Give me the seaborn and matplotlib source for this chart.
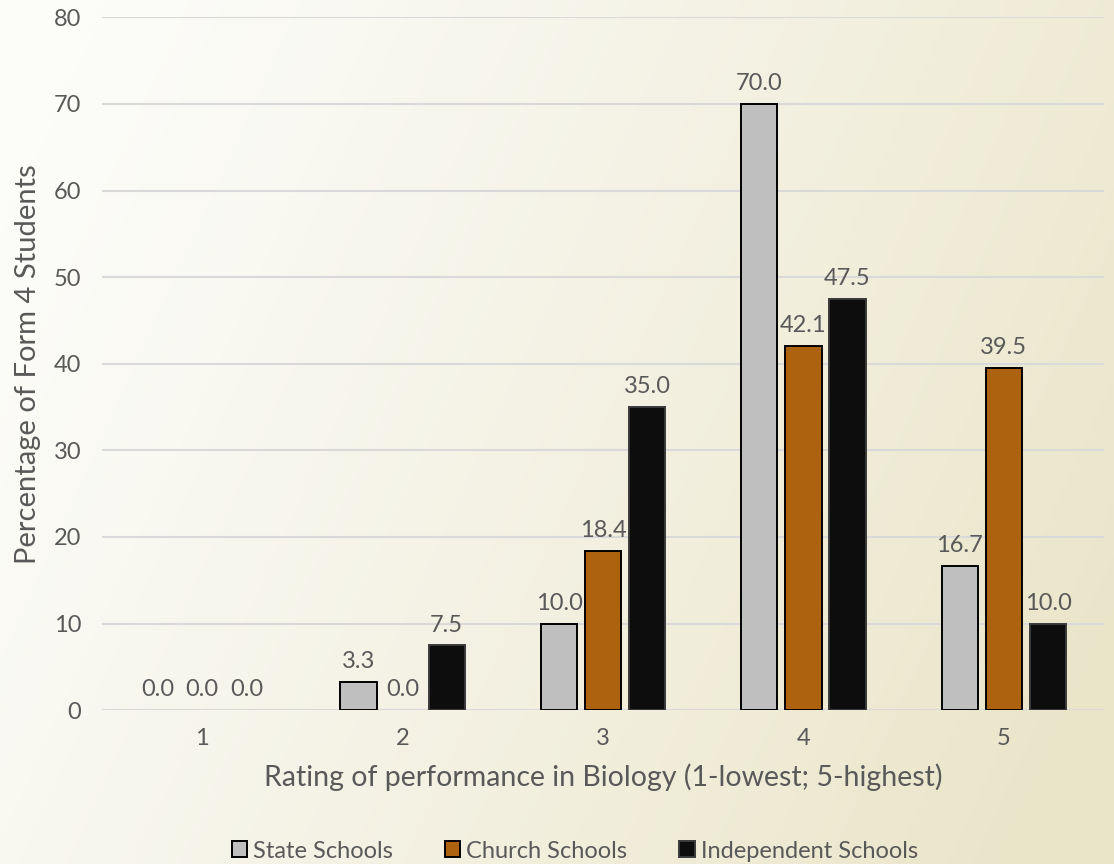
import numpy as np
import pandas as pd
import matplotlib
matplotlib.use("Agg")
import matplotlib.pyplot as plt
import seaborn as sns

# Ratings and percentages per school type
ratings = ["1", "2", "3", "4", "5"]
state_schools = [0.0, 3.3, 10.0, 70.0, 16.7]
church_schools = [0.0, 0.0, 18.4, 42.1, 39.5]
independent_schools = [0.0, 7.5, 35.0, 47.5, 10.0]
series_names = ["State Schools", "Church Schools", "Independent Schools"]
series_colors = ["#BFBFBF", "#AD620F", "#0D0D0D"]
series_edges = ["#000000", "#000000", "#3A3A3A"]

df = pd.DataFrame({
    "Rating": ratings * 3,
    "Percent": state_schools + church_schools + independent_schools,
    "School": sum([[n] * len(ratings) for n in series_names], []),
})

sns.set_theme(style="white")
plt.rcParams["font.family"] = ["Lato", "DejaVu Sans"]
text_color = "#595959"

fig = plt.figure(figsize=(11.14, 8.64), dpi=100)

# Soft diagonal background wash
bg = fig.add_axes([0, 0, 1, 1], zorder=-10)
h, w = 216, 279
yy, xx = np.mgrid[0:h, 0:w]
t = np.clip(0.85 * xx / (w - 1) + 0.3 * yy / (h - 1) - 0.08, 0, 1) ** 1.15
c0 = np.array([252, 252, 249]) / 255
c1 = np.array([234, 229, 201]) / 255
img = c0[None, None, :] * (1 - t[..., None]) + c1[None, None, :] * t[..., None]
bg.imshow(img, aspect="auto", extent=[0, 1, 0, 1], origin="upper")
bg.axis("off")

ax = fig.add_axes([0.0916, 0.178, 0.8995, 0.802])
ax.patch.set_alpha(0)

sns.barplot(data=df, x="Rating", y="Percent", hue="School", order=ratings,
            hue_order=series_names, palette=series_colors, saturation=1,
            width=0.66, gap=0.18, ax=ax, legend=False)

for container, edge in zip(ax.containers, series_edges):
    for bar in container:
        bar.set_edgecolor(edge)
        bar.set_linewidth(1.4 if bar.get_height() > 0 else 0)
        bar.set_zorder(3)
    ax.bar_label(container, fmt="%.1f", padding=7, fontsize=17, color=text_color)

ax.set_ylim(0, 80)
ax.set_xlim(-0.5, 4.5)
ax.set_yticks(np.arange(0, 81, 10))
ax.grid(axis="y", color="#D9D9D9", linewidth=1.5, zorder=0)
ax.set_axisbelow(True)
for s in ax.spines.values():
    s.set_visible(False)
ax.tick_params(axis="both", length=0, labelsize=17, labelcolor=text_color)
ax.tick_params(axis="y", pad=15)
ax.tick_params(axis="x", pad=13)
ax.set_xlabel("Rating of performance in Biology (1-lowest; 5-highest)",
              fontsize=20.5, color=text_color, labelpad=10)
ax.set_ylabel("Percentage of Form 4 Students", fontsize=21, color=text_color,
              labelpad=9)

handles = [plt.Rectangle((0, 0), 1, 1, facecolor=c, edgecolor=e, linewidth=1.4)
           for c, e in zip(series_colors, series_edges)]
fig.legend(handles, series_names, loc="center", bbox_to_anchor=(0.516, 0.015),
           ncol=3, frameon=False, fontsize=17, labelcolor=text_color,
           handlelength=0.65, handleheight=0.65, handletextpad=0.25,
           columnspacing=2.2)

fig.savefig("out.png", dpi=100)
